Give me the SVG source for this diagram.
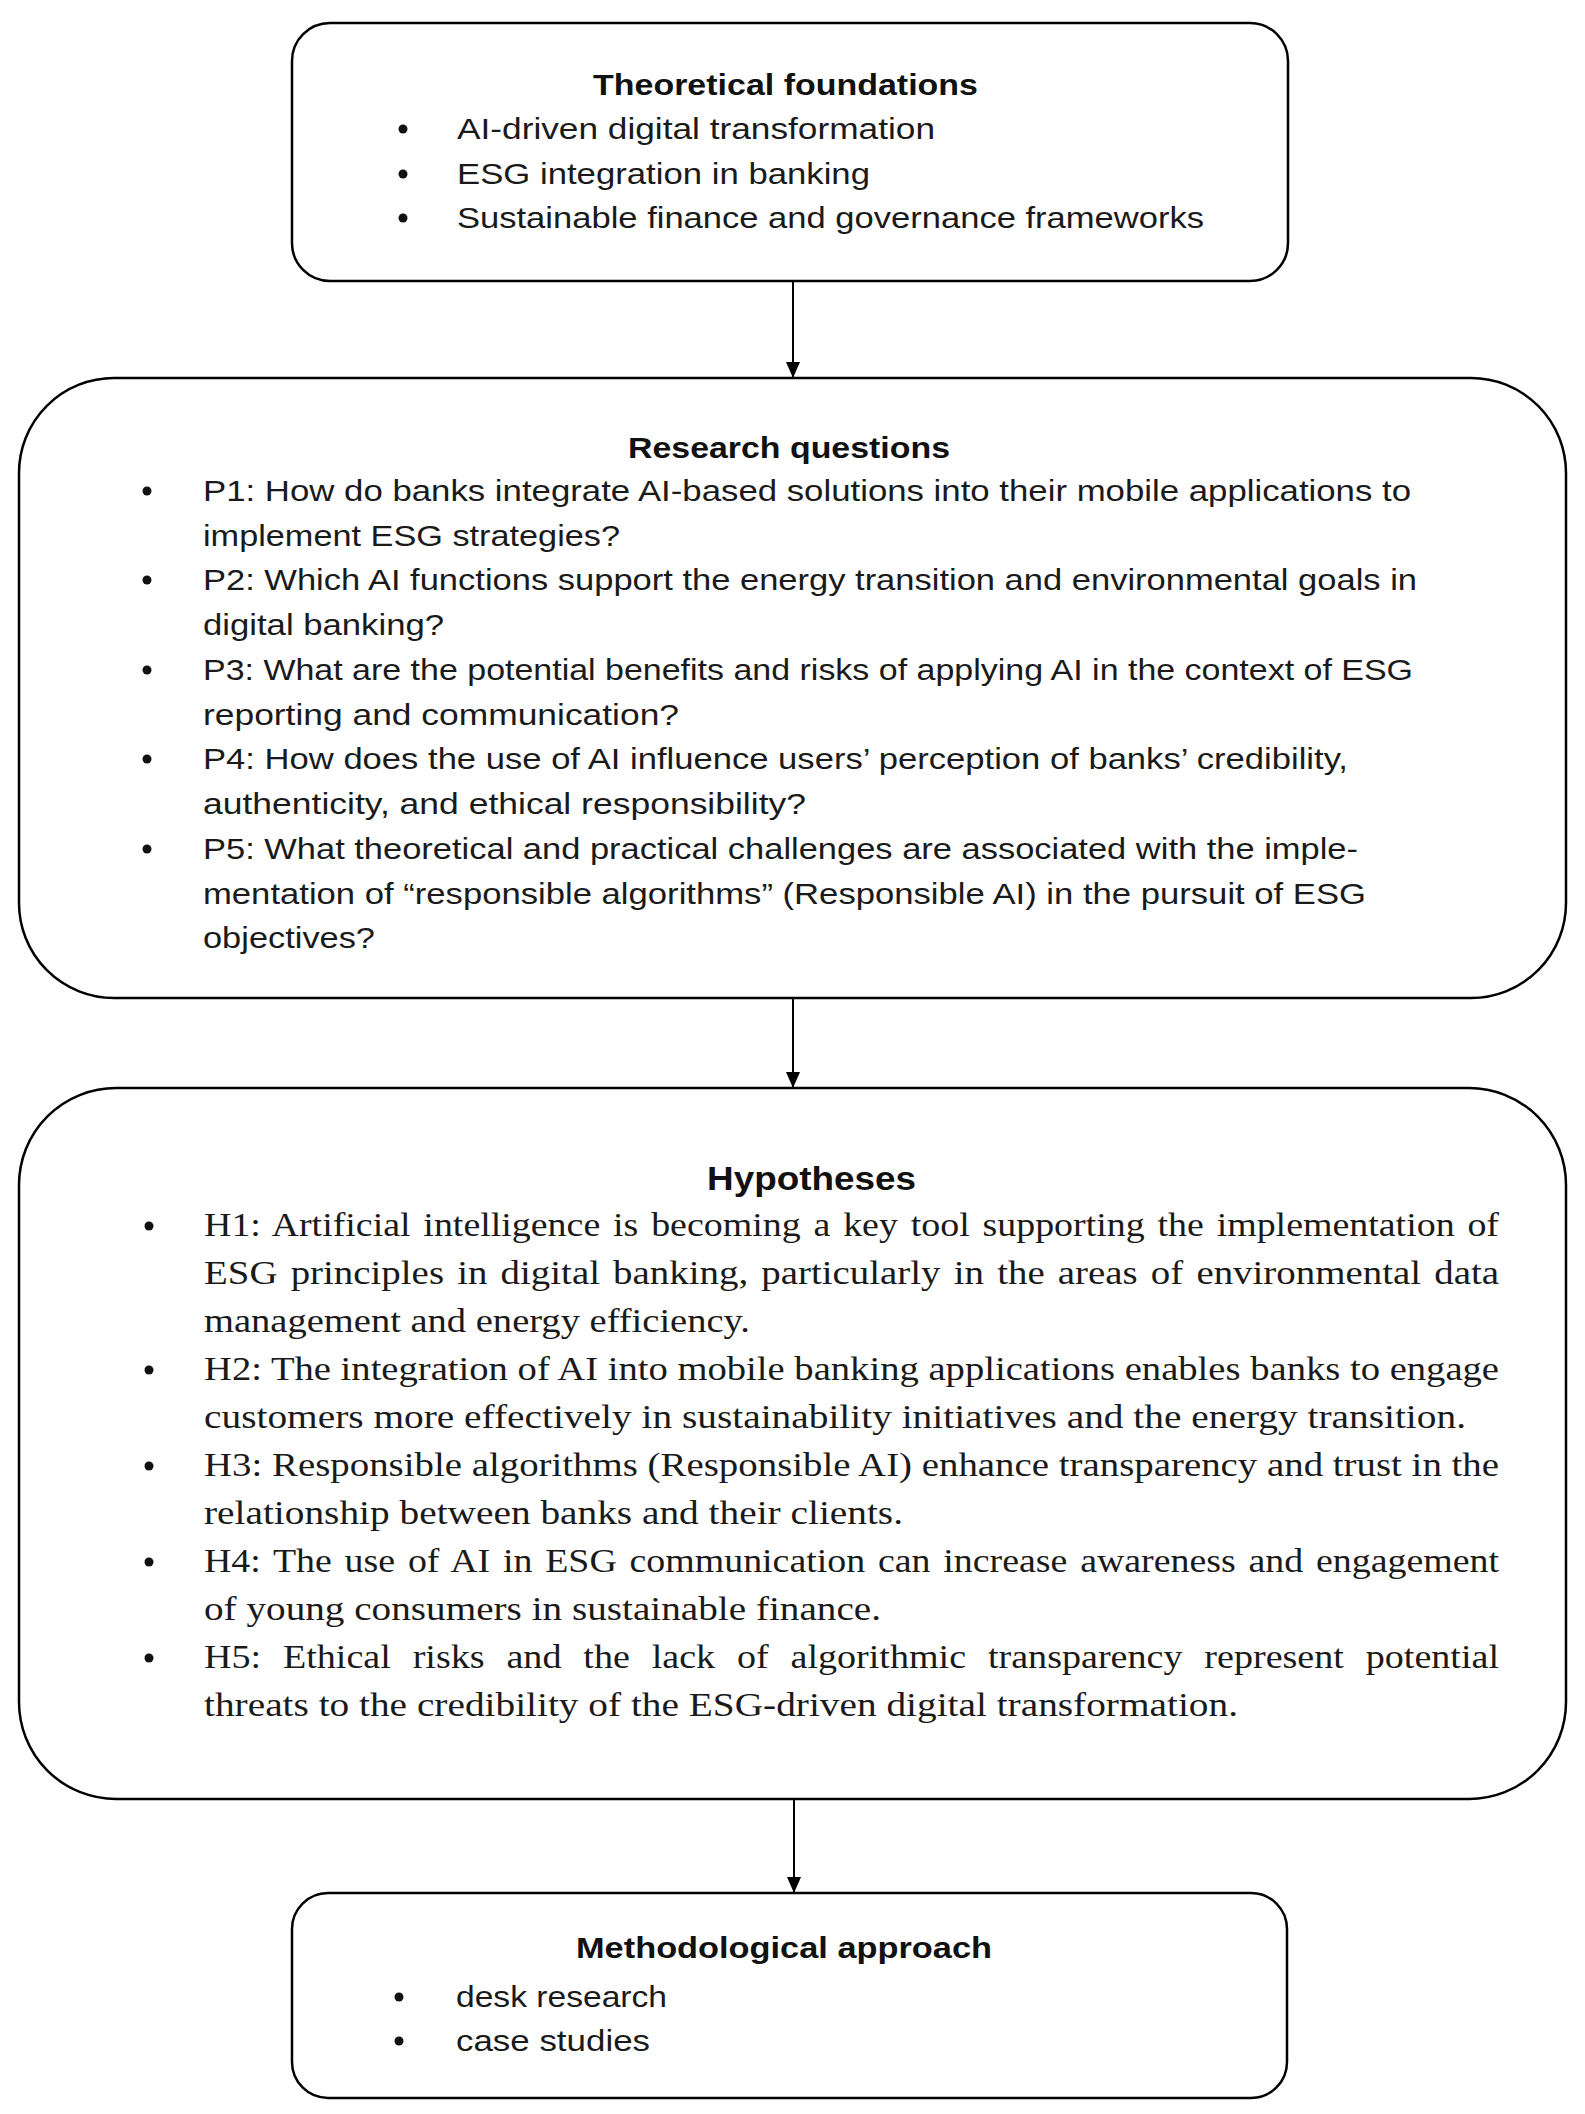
<svg xmlns="http://www.w3.org/2000/svg" width="1585" height="2114" viewBox="0 0 1585 2114">
<style>
.box{fill:#ffffff;stroke:#000000;stroke-width:2.5}
.t{font-family:"Liberation Sans",Arial,sans-serif;font-size:30px;fill:#1a1a1a}
.tb{font-family:"Liberation Sans",Arial,sans-serif;font-size:30px;font-weight:bold;fill:#111111}
.h{font-family:"Liberation Serif","Times New Roman",serif;font-size:34px;fill:#1a1a1a}
.hb{font-family:"Liberation Sans",Arial,sans-serif;font-size:34px;font-weight:bold;fill:#111111}
.bul{fill:#111111}
.conn{stroke:#000000;stroke-width:2;fill:none}
</style>
<defs>
<marker id="arr" markerUnits="userSpaceOnUse" markerWidth="14" markerHeight="16" refX="7" refY="16" orient="0" viewBox="0 0 14 16">
<path d="M0,0 L14,0 L7,16 Z" fill="#000000"/>
</marker>
</defs>
<rect width="1585" height="2114" fill="#ffffff"/>

<g id="connectors">
<line class="conn" x1="793" y1="281" x2="793" y2="378" marker-end="url(#arr)"/>
<line class="conn" x1="793" y1="998" x2="793" y2="1088" marker-end="url(#arr)"/>
<line class="conn" x1="794" y1="1799" x2="794" y2="1893" marker-end="url(#arr)"/>
</g>

<g id="theoretical-foundations">
<rect class="box" x="292" y="23" width="996" height="258" rx="38" ry="38"/>
<text class="tb" x="593" y="95" textLength="385" lengthAdjust="spacingAndGlyphs">Theoretical foundations</text>
<circle class="bul" cx="403" cy="129" r="4.5"/>
<circle class="bul" cx="403" cy="174" r="4.5"/>
<circle class="bul" cx="403" cy="218" r="4.5"/>
<text class="t" x="457" y="139" textLength="478" lengthAdjust="spacingAndGlyphs">AI-driven digital transformation</text>
<text class="t" x="457" y="184" textLength="413" lengthAdjust="spacingAndGlyphs">ESG integration in banking</text>
<text class="t" x="457" y="228" textLength="747" lengthAdjust="spacingAndGlyphs">Sustainable finance and governance frameworks</text>
</g>

<g id="research-questions">
<rect class="box" x="19" y="378" width="1547" height="620" rx="95" ry="95"/>
<text class="tb" x="628" y="458" textLength="322" lengthAdjust="spacingAndGlyphs">Research questions</text>
<circle class="bul" cx="147" cy="491" r="4.5"/>
<circle class="bul" cx="147" cy="580" r="4.5"/>
<circle class="bul" cx="147" cy="670" r="4.5"/>
<circle class="bul" cx="147" cy="759" r="4.5"/>
<circle class="bul" cx="147" cy="849" r="4.5"/>
<text class="t" x="203" y="501" textLength="1208" lengthAdjust="spacingAndGlyphs">P1: How do banks integrate AI-based solutions into their mobile applications to</text>
<text class="t" x="203" y="546" textLength="417" lengthAdjust="spacingAndGlyphs">implement ESG strategies?</text>
<text class="t" x="203" y="590" textLength="1214" lengthAdjust="spacingAndGlyphs">P2: Which AI functions support the energy transition and environmental goals in</text>
<text class="t" x="203" y="635" textLength="241" lengthAdjust="spacingAndGlyphs">digital banking?</text>
<text class="t" x="203" y="680" textLength="1210" lengthAdjust="spacingAndGlyphs">P3: What are the potential benefits and risks of applying AI in the context of ESG</text>
<text class="t" x="203" y="725" textLength="476" lengthAdjust="spacingAndGlyphs">reporting and communication?</text>
<text class="t" x="203" y="769" textLength="1145" lengthAdjust="spacingAndGlyphs">P4: How does the use of AI influence users’ perception of banks’ credibility,</text>
<text class="t" x="203" y="814" textLength="603" lengthAdjust="spacingAndGlyphs">authenticity, and ethical responsibility?</text>
<text class="t" x="203" y="859" textLength="1155" lengthAdjust="spacingAndGlyphs">P5: What theoretical and practical challenges are associated with the imple-</text>
<text class="t" x="203" y="904" textLength="1163" lengthAdjust="spacingAndGlyphs">mentation of “responsible algorithms” (Responsible AI) in the pursuit of ESG</text>
<text class="t" x="203" y="948" textLength="172" lengthAdjust="spacingAndGlyphs">objectives?</text>
</g>

<g id="hypotheses">
<rect class="box" x="19" y="1088" width="1547" height="711" rx="97" ry="97"/>
<text class="hb" x="707" y="1190" textLength="209" lengthAdjust="spacingAndGlyphs">Hypotheses</text>
<circle class="bul" cx="149" cy="1226" r="4.5"/>
<circle class="bul" cx="149" cy="1370" r="4.5"/>
<circle class="bul" cx="149" cy="1466" r="4.5"/>
<circle class="bul" cx="149" cy="1562" r="4.5"/>
<circle class="bul" cx="149" cy="1658" r="4.5"/>
<text class="h" x="204" y="1236" textLength="1295" lengthAdjust="spacingAndGlyphs" word-spacing="3">H1: Artificial intelligence is becoming a key tool supporting the implementation of</text>
<text class="h" x="204" y="1284" textLength="1295" lengthAdjust="spacingAndGlyphs" word-spacing="3">ESG principles in digital banking, particularly in the areas of environmental data</text>
<text class="h" x="204" y="1332" textLength="546" lengthAdjust="spacingAndGlyphs">management and energy efficiency.</text>
<text class="h" x="204" y="1380" textLength="1295" lengthAdjust="spacingAndGlyphs">H2: The integration of AI into mobile banking applications enables banks to engage</text>
<text class="h" x="204" y="1428" textLength="1262" lengthAdjust="spacingAndGlyphs">customers more effectively in sustainability initiatives and the energy transition.</text>
<text class="h" x="204" y="1476" textLength="1295" lengthAdjust="spacingAndGlyphs">H3: Responsible algorithms (Responsible AI) enhance transparency and trust in the</text>
<text class="h" x="204" y="1524" textLength="699" lengthAdjust="spacingAndGlyphs">relationship between banks and their clients.</text>
<text class="h" x="204" y="1572" textLength="1295" lengthAdjust="spacingAndGlyphs" word-spacing="3">H4: The use of AI in ESG communication can increase awareness and engagement</text>
<text class="h" x="204" y="1620" textLength="677" lengthAdjust="spacingAndGlyphs">of young consumers in sustainable finance.</text>
<text class="h" x="204" y="1668" textLength="1295" lengthAdjust="spacingAndGlyphs" word-spacing="11">H5: Ethical risks and the lack of algorithmic transparency represent potential</text>
<text class="h" x="204" y="1716" textLength="1034" lengthAdjust="spacingAndGlyphs">threats to the credibility of the ESG-driven digital transformation.</text>
</g>

<g id="methodological-approach">
<rect class="box" x="292" y="1893" width="995" height="205" rx="36" ry="36"/>
<text class="tb" x="576" y="1958" textLength="416" lengthAdjust="spacingAndGlyphs">Methodological approach</text>
<circle class="bul" cx="399" cy="1997" r="4.5"/>
<circle class="bul" cx="399" cy="2041" r="4.5"/>
<text class="t" x="456" y="2007" textLength="211" lengthAdjust="spacingAndGlyphs">desk research</text>
<text class="t" x="456" y="2051" textLength="194" lengthAdjust="spacingAndGlyphs">case studies</text>
</g>
</svg>
